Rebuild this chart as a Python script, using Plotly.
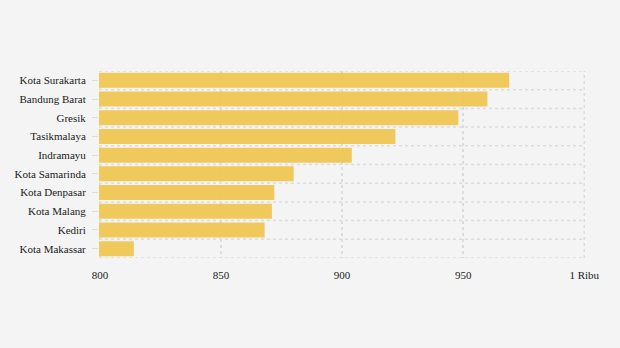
import plotly.graph_objects as go

# Regions and values (shown in thousands on the axis: 1000 = "1 Ribu")
regions = [
    "Kota Surakarta", "Bandung Barat", "Gresik", "Tasikmalaya", "Indramayu",
    "Kota Samarinda", "Kota Denpasar", "Kota Malang", "Kediri", "Kota Makassar",
]
values = [969, 960, 948, 922, 904, 880, 872, 871, 868, 814]

tick_vals = [800, 850, 900, 950, 1000]
tick_text = ["800", "850", "900", "950", "1 Ribu"]

bg = "#f4f4f4"
grid_col = "#dcdcdc"
font_family = "'Liberation Serif', 'DejaVu Serif', serif"

fig = go.Figure(
    go.Bar(
        x=values,
        y=list(range(len(regions))),
        orientation="h",
        marker=dict(color="#f0c650", line=dict(width=0)),
        opacity=0.92,
        width=0.8,
        hoverinfo="skip",
    )
)

# horizontal dotted separators between categories
shapes = []
for k in range(len(regions) + 1):
    shapes.append(dict(
        type="line", xref="paper", yref="y", x0=0, x1=1,
        y0=k - 0.5, y1=k - 0.5, layer="below",
        line=dict(color=grid_col, width=1.5, dash="dot"),
    ))
# vertical edges of the plotting area at 800 and 1000
for xv in (tick_vals[0], tick_vals[-1]):
    shapes.append(dict(
        type="line", xref="x", yref="paper", x0=xv, x1=xv, y0=0, y1=1,
        layer="below", line=dict(color=grid_col, width=1.5, dash="dot"),
    ))

fig.update_layout(
    width=620, height=348,
    margin=dict(l=99, r=35, t=71, b=90),
    paper_bgcolor=bg, plot_bgcolor=bg,
    font=dict(family=font_family, size=11, color="#1a1a1a"),
    showlegend=False,
    shapes=shapes,
    xaxis=dict(
        range=[799.6, 1000.3],
        tickmode="array", tickvals=tick_vals, ticktext=tick_text,
        showgrid=True, gridcolor=grid_col, gridwidth=1.5, griddash="dot",
        zeroline=False, showline=False,
        ticks="outside", ticklen=7, tickcolor="rgba(0,0,0,0)",
        tickfont=dict(family=font_family, size=11, color="#1a1a1a"),
    ),
    yaxis=dict(
        range=[len(regions) - 0.5, -0.5],
        tickmode="array", tickvals=list(range(len(regions))), ticktext=regions,
        showgrid=False, zeroline=False, showline=False,
        ticks="outside", ticklen=6, tickcolor="#dddddd", tickwidth=1,
        ticklabelstandoff=4,
        tickfont=dict(family=font_family, size=11, color="#1a1a1a"),
    ),
)

fig.write_html("out.html")
